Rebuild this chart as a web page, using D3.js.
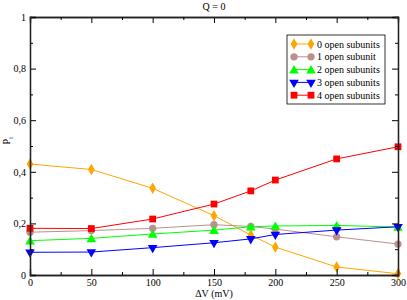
<!DOCTYPE html>
<html>
<head>
<meta charset="utf-8">
<script src="https://cdn.jsdelivr.net/npm/d3@7"></script>
<style>
  body { margin: 0; background: #fff; }
  svg text { font-family: "Liberation Serif", "Times New Roman", serif !important; }
</style>
</head>
<body>
<svg id="chart" width="407" height="300"></svg>
<script>
// Data.
const voltages = [0, 50, 100, 150, 180, 200, 250, 300];
const seriesNames = ["0 open subunits", "1 open subunit", "2 open subunits", "3 open subunits", "4 open subunits"];
const open0 = [0.430, 0.409, 0.336, 0.230, 0.155, 0.108, 0.031, 0.005];
const open1 = [0.166, 0.172, 0.181, 0.195, 0.188, 0.178, 0.148, 0.120];
const open2 = [0.133, 0.142, 0.159, 0.174, 0.187, 0.190, 0.192, 0.186];
const open3 = [0.088, 0.089, 0.106, 0.125, 0.140, 0.157, 0.174, 0.187];
const open4 = [0.181, 0.180, 0.217, 0.275, 0.326, 0.368, 0.450, 0.497];
const yTicks = [0, 0.2, 0.4, 0.6, 0.8, 1];
const xTicks = [0, 50, 100, 150, 200, 250, 300];

const colors = ["#ffa500", "#bc8f8f", "#00ff00", "#0000ff", "#ff0000"];
const symbols = [d3.symbolDiamond, d3.symbolCircle, d3.symbolTriangle, "triDown", d3.symbolSquare];
const sizes = [38, 42, 40, 40, 46];
const allSeries = [open0, open1, open2, open3, open4];

const svg = d3.select("#chart");
const margin = { left: 30, right: 9, top: 17, bottom: 25 };
const W = 407, H = 300;

const x = d3.scaleLinear().domain([0, 300]).range([margin.left, W - margin.right]);
const y = d3.scaleLinear().domain([0, 1]).range([H - margin.bottom, margin.top]);

// Marker path for a series index.
function marker(i) {
  if (symbols[i] === "triDown") {
    return d3.symbol(d3.symbolTriangle, sizes[i])();
  }
  return d3.symbol(symbols[i], sizes[i])();
}
function markerTransform(i, px, py) {
  if (symbols[i] === "triDown") return `translate(${px},${py}) rotate(180)`;
  if (symbols[i] === d3.symbolTriangle) return `translate(${px},${py + 1})`;
  return `translate(${px},${py})`;
}

// Lines and markers.
const line = d3.line().x((d, j) => x(voltages[j])).y((d) => y(d));
allSeries.forEach((vals, i) => {
  const g = svg.append("g");
  g.append("path")
    .attr("d", line(vals))
    .attr("fill", "none")
    .attr("stroke", colors[i])
    .attr("stroke-width", 1);
  g.selectAll("path.m")
    .data(vals)
    .join("path")
    .attr("class", "m")
    .attr("d", marker(i))
    .attr("transform", (d, j) => markerTransform(i, x(voltages[j]), y(d)))
    .attr("fill", colors[i]);
});

// Axes with inward ticks on all four sides.
const minorX = d3.range(25, 300, 50);
const minorY = d3.range(0.1, 1, 0.2);
const frame = svg.append("g");
frame.append("g")
  .attr("transform", `translate(0,${y(0)})`)
  .call(d3.axisBottom(x).tickValues(xTicks).tickSize(-6).tickPadding(4).tickFormat(d3.format("d")));
frame.append("g")
  .attr("transform", `translate(0,${y(0)})`)
  .call(d3.axisBottom(x).tickValues(minorX).tickSize(-3).tickFormat(""));
frame.append("g")
  .attr("transform", `translate(0,${y(1)})`)
  .call(d3.axisTop(x).tickValues(xTicks).tickSize(-6).tickFormat(""));
frame.append("g")
  .attr("transform", `translate(0,${y(1)})`)
  .call(d3.axisTop(x).tickValues(minorX).tickSize(-3).tickFormat(""));
frame.append("g")
  .attr("transform", `translate(${x(0)},0)`)
  .call(d3.axisLeft(y).tickValues(yTicks).tickSize(-6).tickPadding(4)
    .tickFormat((d) => (d === 0 || d === 1) ? String(d) : d3.format(".1f")(d).replace(".", ",")));
frame.append("g")
  .attr("transform", `translate(${x(0)},0)`)
  .call(d3.axisLeft(y).tickValues(minorY).tickSize(-3).tickFormat(""));
frame.append("g")
  .attr("transform", `translate(${x(300)},0)`)
  .call(d3.axisRight(y).tickValues(yTicks).tickSize(-6).tickFormat(""));
frame.append("g")
  .attr("transform", `translate(${x(300)},0)`)
  .call(d3.axisRight(y).tickValues(minorY).tickSize(-3).tickFormat(""));
frame.selectAll(".domain").attr("stroke", "#222").attr("stroke-width", 1.3);
frame.selectAll(".tick line").attr("stroke", "#000");
frame.selectAll(".tick text").attr("font-size", 10).attr("fill", "#000");

// Title and axis labels.
svg.append("text")
  .attr("x", (x(0) + x(300)) / 2).attr("y", 10)
  .attr("text-anchor", "middle").attr("font-size", 10)
  .text("Q = 0");
svg.append("text")
  .attr("x", (x(0) + x(300)) / 2).attr("y", 297)
  .attr("text-anchor", "middle").attr("font-size", 10)
  .text("ΔV  (mV)");
const yl = svg.append("text")
  .attr("transform", `translate(10,${y(0.52)}) rotate(-90)`)
  .attr("text-anchor", "middle").attr("font-size", 10);
yl.append("tspan").text("P");
yl.append("tspan").attr("font-size", 7).attr("dy", 3).text("i");

// Legend.
const lg = svg.append("g").attr("transform", "translate(287,35)");
lg.append("rect")
  .attr("width", 98).attr("height", 69)
  .attr("fill", "#fff").attr("stroke", "#000").attr("stroke-width", 0.8);
seriesNames.forEach((name, i) => {
  const ry = 9 + i * 12.8;
  lg.append("line")
    .attr("x1", 7).attr("x2", 24).attr("y1", ry).attr("y2", ry)
    .attr("stroke", colors[i]);
  [7, 24].forEach((mx) => {
    lg.append("path")
      .attr("d", marker(i))
      .attr("transform", markerTransform(i, mx, ry))
      .attr("fill", colors[i]);
  });
  lg.append("text")
    .attr("x", 30).attr("y", ry + 3.5)
    .attr("font-size", 10)
    .text(name);
});
</script>
</body>
</html>
